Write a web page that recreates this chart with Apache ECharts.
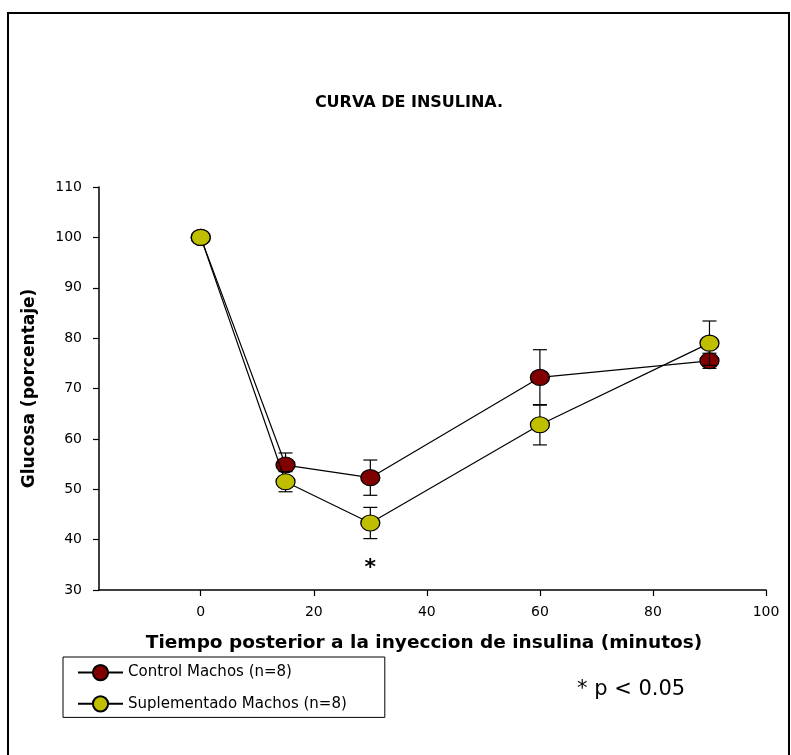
<!DOCTYPE html>
<html><head><meta charset="utf-8">
<script src="https://cdn.jsdelivr.net/npm/echarts@6/dist/echarts.min.js"></script>
<style>html,body{margin:0;padding:0;background:#fff}#c{width:791px;height:755px}</style>
</head><body><div id="c"></div>
<script>
const times = [0, 15, 30, 60, 90];
const controlMean = [100, 54.8, 52.3, 72.2, 75.5];
const controlErr = [0, 2.4, 3.5, 5.5, 1.5];
const suppMean = [100, 51.5, 43.3, 62.8, 79.0];
const suppErr = [0, 2.0, 3.1, 4.0, 4.4];
const xTickValues = [0, 20, 40, 60, 80, 100];
const seriesNames = ['Control Machos (n=8)', 'Suplementado Machos (n=8)'];
const seriesColors = ['#800000', '#BFBF00'];
const starPoint = [30, 34.4];
const titleText = 'CURVA DE INSULINA.';
const xTitle = 'Tiempo posterior a la inyeccion de insulina (minutos)';
const yTitle = 'Glucosa (porcentaje)';
const noteText = '* p < 0.05';

const FONT = 'DejaVu Sans';

function errData(mean, err) {
  const out = [];
  for (let i = 0; i < times.length; i++) {
    if (err[i] > 0) out.push([times[i], mean[i] - err[i], mean[i] + err[i]]);
  }
  return out;
}
function errRender(params, api) {
  const x = api.value(0), lo = api.value(1), hi = api.value(2);
  const pLo = api.coord([x, lo]), pHi = api.coord([x, hi]);
  const hw = 7;
  const style = { stroke: '#000', lineWidth: 1.2 };
  return { type: 'group', children: [
    { type: 'line', shape: { x1: pLo[0], y1: pLo[1], x2: pHi[0], y2: pHi[1] }, style: style },
    { type: 'line', shape: { x1: pLo[0] - hw, y1: pLo[1], x2: pLo[0] + hw, y2: pLo[1] }, style: style },
    { type: 'line', shape: { x1: pHi[0] - hw, y1: pHi[1], x2: pHi[0] + hw, y2: pHi[1] }, style: style }
  ]};
}
function lineSeries(name, mean, color, z, extra) {
  return Object.assign({
    name: name, type: 'line', z: z,
    data: times.map((t, i) => [t, mean[i]]),
    symbol: 'circle', symbolSize: [19, 16],
    itemStyle: { color: color, borderColor: '#000', borderWidth: 1.2 },
    lineStyle: { color: '#000', width: 1.2 },
    emphasis: { disabled: true }, animation: false
  }, extra || {});
}

const chart = echarts.init(document.getElementById('c'), null, { renderer: 'canvas' });
chart.setOption({
  animation: false,
  backgroundColor: '#fff',
  grid: { left: 99, right: 25, top: 187, bottom: 165 },
  xAxis: {
    type: 'value', min: -18, max: 100,
    axisLine: { onZero: false, lineStyle: { color: '#000', width: 1.5 } },
    axisTick: { show: true, length: 6, lineStyle: { color: '#000', width: 1.2 }, customValues: xTickValues },
    axisLabel: { customValues: xTickValues, color: '#000', fontFamily: FONT, fontSize: 14, margin: 15 },
    splitLine: { show: false }
  },
  yAxis: {
    type: 'value', min: 30, max: 110, interval: 10,
    name: yTitle, nameLocation: 'middle', nameGap: 61, nameRotate: 90,
    nameTextStyle: { color: '#000', fontFamily: FONT, fontWeight: 'bold', fontSize: 17 },
    axisLine: { show: true, onZero: false, lineStyle: { color: '#000', width: 1.5 } },
    axisTick: { show: true, length: 6, lineStyle: { color: '#000', width: 1.2 } },
    axisLabel: { color: '#000', fontFamily: FONT, fontSize: 14, margin: 17 },
    splitLine: { show: false }
  },
  legend: {
    data: seriesNames,
    orient: 'vertical', left: 63, top: 657,
    padding: [7, 38, 5, 14],
    itemWidth: 45, itemHeight: 19, itemGap: 14,
    borderColor: '#000', borderWidth: 1,
    selectedMode: false,
    textStyle: { color: '#000', fontFamily: FONT, fontSize: 15 }
  },
  graphic: [
    { type: 'rect', shape: { x: 8, y: 13, width: 781, height: 800 }, style: { fill: 'none', stroke: '#000', lineWidth: 2 }, silent: true },
    { type: 'text', x: 409, y: 103, style: { text: titleText, fill: '#000', font: 'bold 16px "' + FONT + '"', textAlign: 'center', textVerticalAlign: 'middle' } },
    { type: 'text', x: 424, y: 643, style: { text: xTitle, fill: '#000', font: 'bold 18.5px "' + FONT + '"', textAlign: 'center', textVerticalAlign: 'middle' } },
    { type: 'text', x: 577, y: 690, style: { text: noteText, fill: '#000', font: '21px "' + FONT + '"', textAlign: 'left', textVerticalAlign: 'middle' } }
  ],
  series: [
    { name: 'errC', type: 'custom', z: 2, renderItem: errRender, data: errData(controlMean, controlErr), encode: { x: 0, y: [1, 2] }, silent: true, animation: false },
    lineSeries(seriesNames[0], controlMean, seriesColors[0], 3),
    { name: 'errS', type: 'custom', z: 4, renderItem: errRender, data: errData(suppMean, suppErr), encode: { x: 0, y: [1, 2] }, silent: true, animation: false },
    lineSeries(seriesNames[1], suppMean, seriesColors[1], 5, {
      markPoint: {
        symbol: 'circle', symbolSize: 1, itemStyle: { color: 'rgba(0,0,0,0)' }, silent: true,
        label: { show: true, position: 'inside', formatter: '*', color: '#000', fontFamily: FONT, fontWeight: 'bold', fontSize: 22 },
        data: [{ coord: starPoint }]
      }
    })
  ]
});
</script></body></html>
